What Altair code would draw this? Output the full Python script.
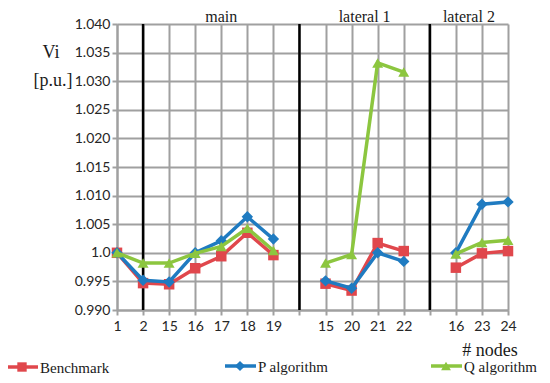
import altair as alt
import pandas as pd

# ---- data ----
positions = [0, 1, 2, 3, 4, 5, 6, 8, 9, 10, 11, 13, 14, 15]
node_labels = ["1", "2", "15", "16", "17", "18", "19", "", "15", "20", "21", "22", "", "16", "23", "24"]
sections = ["main"] * 7 + ["lateral 1"] * 4 + ["lateral 2"] * 3
benchmark = [1.0000, 0.9947, 0.9945, 0.9973, 0.9994, 1.0035, 0.9996,
             0.9946, 0.9934, 1.0017, 1.0003,
             0.9974, 0.9999, 1.0003]
p_algorithm = [1.0000, 0.9952, 0.9949, 1.0000, 1.0021, 1.0063, 1.0024,
               0.9951, 0.9938, 1.0000, 0.9985,
               1.0000, 1.0085, 1.0089]
q_algorithm = [1.0000, 0.9982, 0.9982, 0.9999, 1.0011, 1.0043, 1.0004,
               0.9982, 0.9997, 1.0332, 1.0316,
               0.9998, 1.0018, 1.0022]
y_ticks = [0.990, 0.995, 1.000, 1.005, 1.010, 1.015, 1.020, 1.025, 1.030, 1.035, 1.040]
divider_positions = [1, 7, 12]
section_names = ["main", "lateral 1", "lateral 2"]
section_centers = [4, 9.5, 13.5]

series_names = ["Benchmark", "P algorithm", "Q algorithm"]
series_colors = ["#E0474C", "#1F7BC1", "#8CC63F"]
series_shapes = ["square", "diamond", "triangle-up"]
series_sizes = [110, 130, 120]
series_values = [benchmark, p_algorithm, q_algorithm]

SANS = "Lato"
SERIF = "Liberation Serif"
GRID = "#A0A0A0"

x_scale = alt.Scale(domain=[0, 15], nice=False, zero=False)
y_scale = alt.Scale(domain=[0.990, 1.040], nice=False, zero=False)

label_js = "[" + ",".join("'" + s + "'" for s in node_labels) + "]"

x_axis = alt.Axis(values=list(range(16)), labelExpr=label_js + "[datum.value]",
                  labelOverlap=False, labelFlush=False,
                  grid=True, gridColor=GRID, gridWidth=2, domainColor=GRID, domainWidth=2,
                  tickColor=GRID, tickWidth=2, tickSize=5, labelPadding=4,
                  labelFont=SANS, labelFontSize=14, labelColor="#262626", title=None)
y_axis = alt.Axis(values=y_ticks,
                  labelExpr="abs(datum.value - 1) < 1e-9 ? '1.0' : format(datum.value, '.3f')",
                  labelOverlap=False, labelFlush=False,
                  grid=True, gridColor=GRID, gridWidth=2, domainColor=GRID, domainWidth=2,
                  tickColor=GRID, tickWidth=2, tickSize=5, labelPadding=2,
                  labelFont=SANS, labelFontSize=14, labelColor="#262626", title=None)


def X(field):
    return alt.X(field, scale=x_scale, axis=None)


def Y(field):
    return alt.Y(field, scale=y_scale, axis=None)


# base layer with axes
base_df = pd.DataFrame({"pos": [0, 15], "v": [0.990, 1.040]})
base = alt.Chart(base_df).mark_point(opacity=0).encode(
    x=alt.X("pos:Q", scale=x_scale, axis=x_axis),
    y=alt.Y("v:Q", scale=y_scale, axis=y_axis),
)

# black section dividers
div_df = pd.DataFrame({"pos": divider_positions, "lo": [0.990] * 3, "hi": [1.040] * 3})
dividers = alt.Chart(div_df).mark_rule(color="black", strokeWidth=2.5).encode(
    x=X("pos:Q"), y=Y("lo:Q"), y2="hi:Q")

layers = [base, dividers]
for name, col, shp, sz, vals in zip(series_names, series_colors, series_shapes, series_sizes, series_values):
    df = pd.DataFrame({"pos": positions, "v": vals, "section": sections})
    line = alt.Chart(df).mark_line(color=col, strokeWidth=3.5).encode(
        x=X("pos:Q"), y=Y("v:Q"), detail="section:N")
    pts = alt.Chart(df).mark_point(shape=shp, filled=True, size=sz, color=col, opacity=1).encode(
        x=X("pos:Q"), y=Y("v:Q"))
    layers += [line, pts]

# section titles
sec_df = pd.DataFrame({"pos": section_centers, "name": section_names})
sec_text = alt.Chart(sec_df).mark_text(font=SERIF, fontSize=16, color="#1a1a1a", baseline="alphabetic").encode(
    x=X("pos:Q"), y=alt.value(-2.5), text="name:N")
layers.append(sec_text)

# y title & x title
txt = lambda s, x, y, align="center": alt.Chart(pd.DataFrame({"t": [s]})).mark_text(
    font=SERIF, fontSize=18, color="#1a1a1a", align=align, baseline="middle").encode(
    x=alt.value(x), y=alt.value(y), text="t:N")
layers += [txt("Vi", -66, 29), txt("[p.u.]", -64, 57), txt("# nodes", 373, 327)]

# legend
leg_x = [-110, 108, 314]
leg_y = [343, 342, 342]
for name, col, shp, sz, lx, ly in zip(series_names, series_colors, series_shapes, series_sizes, leg_x, leg_y):
    d = pd.DataFrame({"t": [name]})
    layers.append(alt.Chart(d).mark_rule(color=col, strokeWidth=3.5).encode(
        x=alt.value(lx), x2=alt.value(lx + 31), y=alt.value(ly)))
    layers.append(alt.Chart(d).mark_point(shape=shp, filled=True, size=sz * 0.8, color=col, opacity=1).encode(
        x=alt.value(lx + 15), y=alt.value(ly)))
    layers.append(alt.Chart(d).mark_text(font=SERIF, fontSize=15, color="#1a1a1a", align="left",
                                         baseline="middle").encode(
        x=alt.value(lx + 33), y=alt.value(ly + 1), text="t:N"))

chart = alt.layer(*layers).resolve_axis(x="independent", y="independent").properties(
    width=391, height=286,
    autosize=alt.AutoSizeParams(type="none"),
    padding={"left": 109, "top": 16, "right": 34, "bottom": 65},
).configure_view(stroke=None)

chart.save("out.html", embed_options={"renderer": "svg", "actions": False})
